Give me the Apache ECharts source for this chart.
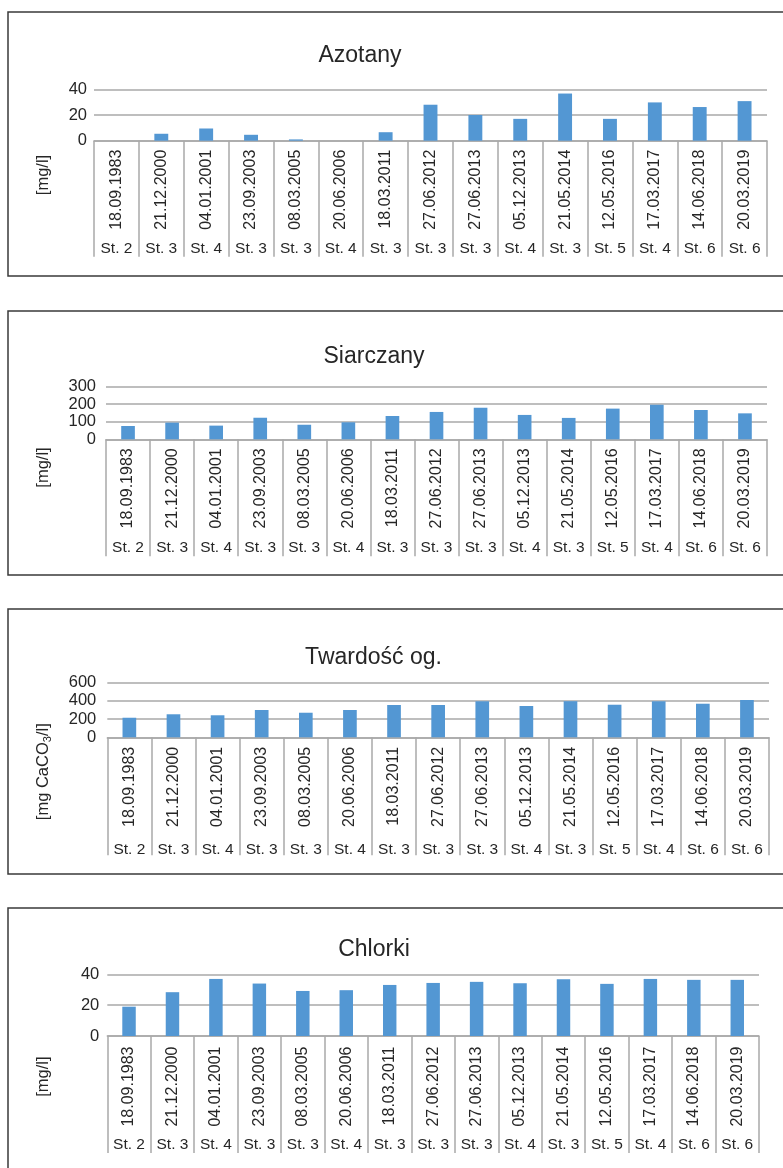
<!DOCTYPE html>
<html>
<head>
<meta charset="utf-8">
<script src="https://cdn.jsdelivr.net/npm/echarts@6/dist/echarts.min.js"></script>
<style>
  html, body { margin: 0; padding: 0; background: #ffffff; }
  #chart { width: 783px; height: 1168px; }
</style>
</head>
<body>
<div id="chart"></div>
<script>
// Sampling dates and stations (two-level category axis)
const dates = ['18.09.1983', '21.12.2000', '04.01.2001', '23.09.2003', '08.03.2005', '20.06.2006', '18.03.2011',
  '27.06.2012', '27.06.2013', '05.12.2013', '21.05.2014', '12.05.2016', '17.03.2017', '14.06.2018', '20.03.2019'];
const stations = ['St. 2', 'St. 3', 'St. 4', 'St. 3', 'St. 3', 'St. 4', 'St. 3',
  'St. 3', 'St. 3', 'St. 4', 'St. 3', 'St. 5', 'St. 4', 'St. 6', 'St. 6'];

// Measured values per parameter
const azotany = [0, 5.4, 9.5, 4.6, 1.0, 0, 6.6, 28.0, 20.0, 17.0, 36.7, 17.0, 29.8, 26.2, 30.8];
const siarczany = [76, 95, 78, 123, 83, 97, 133, 156, 180, 139, 122, 175, 197, 167, 148];
const twardosc = [215, 253, 242, 300, 270, 300, 355, 355, 396, 344, 397, 358, 396, 369, 410];
const chlorki = [19.0, 28.4, 37.0, 34.0, 29.2, 29.7, 33.1, 34.4, 35.1, 34.2, 36.8, 33.8, 37.0, 36.4, 36.4];

// Value axis ticks
const azotanyTicks = [0, 20, 40];
const siarczanyTicks = [0, 100, 200, 300];
const twardoscTicks = [0, 200, 400, 600];
const chlorkiTicks = [0, 20, 40];

const titles = ['Azotany', 'Siarczany', 'Twardość og.', 'Chlorki'];
const unitLabels = ['[mg/l]', '[mg/l]', '[mg CaCO{sub|3}/l]', '[mg/l]'];
const seriesData = [azotany, siarczany, twardosc, chlorki];
const tickSets = [azotanyTicks, siarczanyTicks, twardoscTicks, chlorkiTicks];

// Panel layout (frame, plot area, text anchors)
const layout = [
  { frame: [8, 12, 264], grid: { left: 94, top: 89.3, width: 673, height: 51.4 }, titleX: 360, titleY: 55.5, unitY: 175, yMargin: 7, dateMargin: 9, stMargin: 100, tickLen: 116 },
  { frame: [8, 311, 264], grid: { left: 106, top: 386.7, width: 661, height: 52.6 }, titleX: 374, titleY: 357, unitY: 467.5, yMargin: 10, dateMargin: 9, stMargin: 100, tickLen: 117 },
  { frame: [8, 609, 265], grid: { left: 107.3, top: 682.7, width: 661.7, height: 54.6 }, titleX: 373.5, titleY: 657.5, unitY: 771.7, yMargin: 11, dateMargin: 9.5, stMargin: 104, tickLen: 118 },
  { frame: [8, 908, 300], grid: { left: 107.3, top: 974.3, width: 651.7, height: 61.7 }, titleX: 374, titleY: 950, unitY: 1076.7, yMargin: 8, dateMargin: 10.5, stMargin: 101, tickLen: 117 }
];

const FONT = "'Liberation Sans', Arial, Helvetica, sans-serif";
const TEXT = '#262626';
const GRID = '#a9a9a9';
const BAR = '#5397d3';

const grids = [], xAxes = [], yAxes = [], series = [], graphics = [];

layout.forEach((p, i) => {
  grids.push({ left: p.grid.left, top: p.grid.top, width: p.grid.width, height: p.grid.height, containLabel: false });

  // dates, rotated, with long separator ticks between categories
  xAxes.push({
    type: 'category', gridIndex: i, data: dates, position: 'bottom',
    axisLine: { show: true, lineStyle: { color: GRID, width: 1.5 } },
    axisTick: { show: true, interval: 0, length: p.tickLen, lineStyle: { color: GRID, width: 1.5 } },
    axisLabel: { interval: 0, rotate: 90, margin: p.dateMargin, fontSize: 16, fontFamily: FONT, color: TEXT }
  });
  // stations, second category row
  xAxes.push({
    type: 'category', gridIndex: i, data: stations, position: 'bottom',
    axisLine: { show: false }, axisTick: { show: false },
    axisLabel: { interval: 0, margin: p.stMargin, fontSize: 15.5, fontFamily: FONT, color: TEXT }
  });

  const ticks = tickSets[i];
  yAxes.push({
    type: 'value', gridIndex: i,
    min: ticks[0], max: ticks[ticks.length - 1], interval: ticks[1] - ticks[0],
    axisLine: { show: false }, axisTick: { show: false },
    splitLine: { show: true, lineStyle: { color: GRID, width: 1.5 } },
    axisLabel: { margin: p.yMargin, fontSize: 16.5, fontFamily: FONT, color: TEXT }
  });

  series.push({
    type: 'bar', xAxisIndex: i * 2, yAxisIndex: i,
    data: seriesData[i], barWidth: '31%',
    itemStyle: { color: BAR }, silent: true
  });

  // panel frame
  graphics.push({
    type: 'rect', silent: true,
    shape: { x: p.frame[0], y: p.frame[1], width: 820, height: p.frame[2] },
    style: { fill: 'none', stroke: '#3a3a3a', lineWidth: 1.5 }
  });
  // panel title
  graphics.push({
    type: 'text', silent: true, x: p.titleX, y: p.titleY,
    style: { text: titles[i], fontSize: 23, fontFamily: FONT, fill: TEXT,
      align: 'center', verticalAlign: 'middle', textAlign: 'center', textVerticalAlign: 'middle' }
  });
  // unit label, rotated
  graphics.push({
    type: 'text', silent: true, x: 43, y: p.unitY, rotation: Math.PI / 2,
    style: { text: unitLabels[i], fontSize: 16.5, fontFamily: FONT, fill: TEXT,
      align: 'center', verticalAlign: 'middle', textAlign: 'center', textVerticalAlign: 'middle',
      rich: { sub: { fontSize: 11, fontFamily: FONT, fill: TEXT, verticalAlign: 'bottom', padding: [9, 0, 0, 0] } } }
  });
});

const chart = echarts.init(document.getElementById('chart'), null, { renderer: 'canvas' });
chart.setOption({
  animation: false,
  backgroundColor: '#ffffff',
  grid: grids,
  xAxis: xAxes,
  yAxis: yAxes,
  series: series,
  graphic: graphics
});
</script>
</body>
</html>
